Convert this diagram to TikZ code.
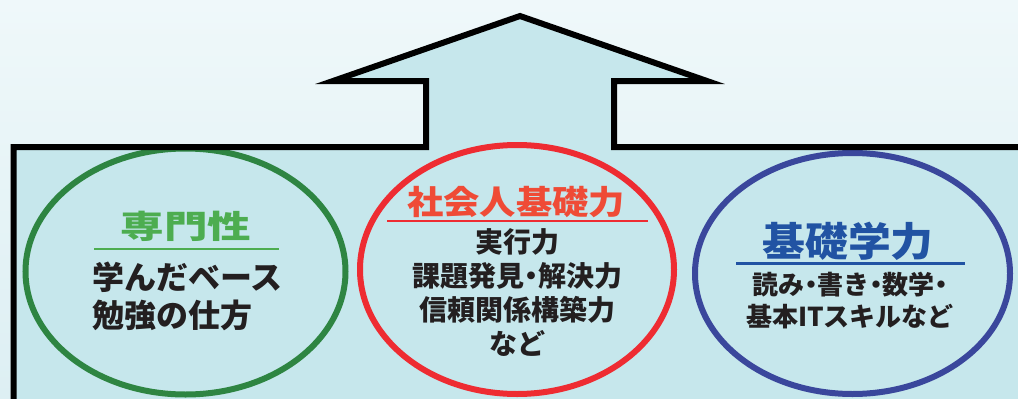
\documentclass[tikz,border=0pt]{standalone}
\usepackage{fontspec}
\usepackage{graphicx}
\newfontfamily\jp{Noto Sans CJK JP}
\definecolor{bgtop}{HTML}{EFF8FA}
\definecolor{bgbot}{HTML}{DDEFF3}
\definecolor{shapefill}{HTML}{C6E7EC}
\definecolor{gring}{HTML}{2E8542}
\definecolor{rring}{HTML}{EE2C32}
\definecolor{bring}{HTML}{3A479C}
\definecolor{gtitle}{HTML}{4DAD50}
\definecolor{rtitle}{HTML}{EF4B36}
\definecolor{btitle}{HTML}{2153A3}
\definecolor{txt}{HTML}{231F20}
\newcommand\hdot{\makebox[0.5em][c]{・}}
\begin{document}
\begin{tikzpicture}[x=1pt,y=-1pt,
  ring/.style={line width=6pt},
  ttl/.style={inner sep=0pt},
  body/.style={inner sep=0pt, align=center, text=txt},
  uline/.style={line width=2.5pt},
]
\useasboundingbox (0,0) rectangle (1018,399);
\shade[top color=bgtop,bottom color=bgbot] (0,0) rectangle (1018,399);
\begin{scope}
\clip (0,0) rectangle (1018,399);
\def\outline{(13.5,430) -- (13.5,147) -- (426,147) -- (426,81) -- (333,81) -- (520,16) -- (707,81) -- (614,81) -- (614,147) -- (1040,147) -- (1040,430)}
\fill[shapefill] \outline -- cycle;
\draw[ring, gring] (185.5,271.5) ellipse [x radius=160, y radius=123];
\draw[ring, rring] (517,269.5) ellipse [x radius=157, y radius=124.5];
\draw[ring, bring] (852.5,273.5) ellipse [x radius=157.5, y radius=120.5];
\draw[line width=6pt, black, miter limit=10] \outline;
\end{scope}
% titles
\node[ttl, text=gtitle, font=\jp\bfseries\fontsize{32}{32}\selectfont] (t1) at (186,226) {\scalebox{1.36}[1]{専門性}};
\node[ttl, text=rtitle, font=\jp\bfseries\fontsize{33}{33}\selectfont] (t2) at (516,202) {\scalebox{1.1}[1]{社会人基礎力}};
\node[ttl, text=btitle, font=\jp\bfseries\fontsize{40}{40}\selectfont] (t3) at (848,241) {\scalebox{1.07}[1]{基礎学力}};
% underlines
\coordinate (u1a) at (94,249); \coordinate (u1b) at (279,249);
\coordinate (u2a) at (387,221); \coordinate (u2b) at (648,221);
\coordinate (u3a) at (736,263); \coordinate (u3b) at (965,263);
\draw[uline, gtitle] (u1a) -- (u1b);
\draw[uline, rring] (u2a) -- (u2b);
\draw[uline, line width=3pt, btitle] (u3a) -- (u3b);
% body text
\node[body, align=left, anchor=west, font=\jp\bfseries\fontsize{32}{38}\selectfont] (b1) at (92,296) {学んだベース\\勉強の仕方};
\node[body, font=\jp\bfseries\fontsize{28}{33.7}\selectfont] (b2) at (517,292.5) {実行力\\課題発見\hdot 解決力\\信頼関係構築力\\など};
\node[body, font=\jp\bfseries\fontsize{26}{32}\selectfont] (b3) at (850,301) {読み\hdot 書き\hdot 数学\hdot\\基本ITスキルなど};
\end{tikzpicture}
\end{document}
